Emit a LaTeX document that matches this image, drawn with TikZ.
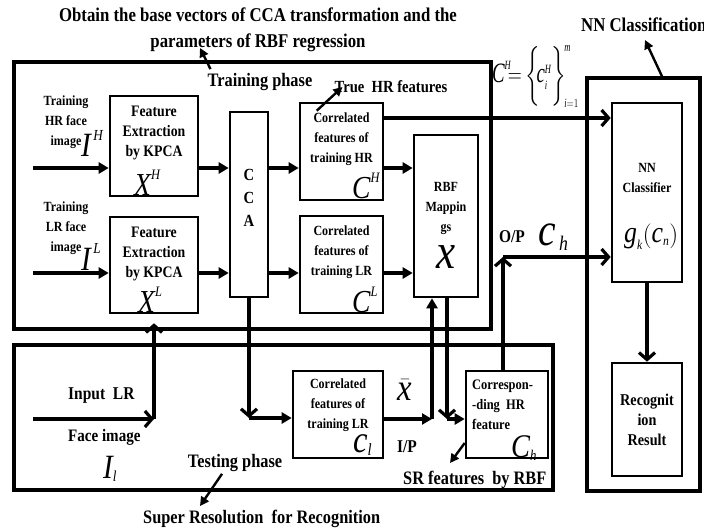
\documentclass[tikz,border=0pt]{standalone}
\usepackage{amsmath}
\usepackage{fontspec}
\setmainfont{Liberation Serif}[FakeStretch=0.86]
\renewcommand{\defaultscriptratio}{.45}
\usetikzlibrary{arrows.meta,positioning}

\tikzset{
  frame/.style={draw,line width=3.4pt,inner sep=0pt},
  blk/.style={draw,line width=2.6pt,inner sep=0pt},
  tsmall/.style={font=\fontsize{14}{20}\selectfont\bfseries,align=center,inner sep=0pt},
  tmid/.style={font=\fontsize{16}{20}\selectfont\bfseries,align=center,inner sep=0pt},
  tlarge/.style={font=\fontsize{18}{22}\selectfont\bfseries,inner sep=0pt},
  thead/.style={font=\fontsize{19}{26}\selectfont\bfseries,align=center,inner sep=0pt},
  sym/.style={font=\fontsize{#1}{#1}\selectfont,inner sep=0pt,anchor=base west},
  fl/.style={line width=3.2pt,-{Triangle[length=10pt,width=11pt]}},
  bl/.style={line width=3.2pt,-{Straight Barb[length=7pt,width=16pt]}},
  ptr/.style={line width=2.4pt,-{Triangle[length=9pt,width=9pt]}},
}

\begin{document}
\begin{tikzpicture}[x=1pt,y=-1pt]
  \useasboundingbox (0,0) rectangle (704,532);
  % the three phases
  \node[frame,minimum width=477,minimum height=267] (train) at (252.5,195.5) {};
  \node[frame,minimum width=539,minimum height=145] (test) at (283.5,417.5) {};
  \node[frame,minimum width=113,minimum height=413] (nnbox) at (643.5,284.5) {};
  % blocks
  \node[blk,minimum width=88,minimum height=100] (fehr) at (154,146) {};
  \node[blk,minimum width=88,minimum height=96] (felr) at (154,265) {};
  \node[blk,minimum width=38,minimum height=185] (cca) at (249,204.5) {};
  \node[blk,minimum width=83,minimum height=97] (chr) at (341.5,151.5) {};
  \node[blk,minimum width=83,minimum height=97] (clr) at (341.5,264.5) {};
  \node[blk,minimum width=64,minimum height=162] (rbf) at (446,216) {};
  \node[blk,minimum width=70,minimum height=179] (nncls) at (647,192.5) {};
  \node[blk,minimum width=70,minimum height=113] (recog) at (647,419.5) {};
  \node[blk,minimum width=90,minimum height=87] (tclr) at (338,414.5) {};
  \node[blk,minimum width=82,minimum height=87] (corr) at (507,414.5) {};
  % block texts
  \node[tsmall] (hrtxt) at (66,122) {Training\\HR face\\image};
  \node[tsmall] (lrtxt) at (66,228) {Training\\LR face\\image};
  \node[tmid] (fehrt) at (154,133) {Feature\\Extraction\\by KPCA};
  \node[tmid] (felrt) at (154,254) {Feature\\Extraction\\by KPCA};
  \node[tmid,font=\fontsize{17}{23}\selectfont\bfseries] (ccat) at (249,197.5) {C\\C\\A};
  \node[tsmall] (chrt) at (341.5,139) {Correlated\\features of\\training HR};
  \node[tsmall] (clrt) at (341.5,252) {Correlated\\features of\\training LR};
  \node[tsmall] (rbft) at (446,208) {RBF\\Mappin\\gs};
  \node[tsmall] (nnt) at (647,177.5) {NN\\Classifier};
  \node[tmid,font=\fontsize{16.5}{20}\selectfont\bfseries] (recogt) at (647,420) {Recognit\\ion\\Result};
  \node[tsmall] (tclrt) at (338,405) {Correlated\\features of\\training LR};
  \node[tsmall,font=\fontsize{14.5}{20}\selectfont\bfseries,align=left,anchor=west] (corrt) at (472,405) {Correspon-\\-ding\ \ HR\\feature};
  % symbols
  \node[sym=34] (ih) at (81,157) {$\textit{I}^{\,\textit{H}}$};
  \node[sym=34] (il) at (81,270) {$\textit{I}^{\,\textit{L}}$};
  \node[sym=32] (xh) at (134,195) {$\textit{X}^{\textit{H}}$};
  \node[sym=32] (xl) at (138,312) {$\textit{X}^{\textit{L}}$};
  \node[sym=32] (ch) at (352,198) {$\textit{C}^{\textit{H}}$};
  \node[sym=32] (cl) at (352,312) {$\textit{C}^{\textit{L}}$};
  \node[sym=50,anchor=base] (xr) at (446,268) {$\textit{x}$};
  \node[sym=38,anchor=base] (xbar) at (405,400) {$\bar{\textit{x}}$};
  \node[sym=38] (cl2) at (353,452) {$\textit{c}_{\textit{l}}$};
  \node[sym=33] (chh) at (511,457) {$\textit{C}_{\textit{h}}$};
  \node[sym=46] (chop) at (538,245) {$\textit{c}_{\,\textit{h}}$};
  \node[sym=30] (gk) at (624,242) {$\textit{g}_{\textit{k}}(\textit{c}_{\textit{n}})$};
  \node[sym=34] (ilow) at (103,478) {$\textit{I}_{\textit{l}}$};
  \node[sym=28] (cset) at (492,83) {\scalebox{0.78}[1]{$\textit{C}^{\textit{H}}\!{=}\left\{\rule[-17pt]{0pt}{52pt}\!\textit{c}_{\textit{i}}^{\textit{H}}\right\}_{\!\textit{i}=1}^{\!\textit{m}}$}};
  % captions
  \node[thead,font=\fontsize{19.5}{26}\selectfont\bfseries] (title) at (258,30) {Obtain the base vectors of CCA transformation and the\\parameters of RBF regression};
  \node[thead] (trph) at (260,82) {Training phase};
  \node[tlarge,font=\fontsize{17}{20}\selectfont\bfseries] (truehr) at (391,87) {True\ \ HR features};
  \node[thead,font=\fontsize{19.5}{26}\selectfont\bfseries,anchor=west] (nncl) at (581,25) {NN Classification};
  \node[thead] (tsph) at (235,463) {Testing phase};
  \node[thead,anchor=west] (srr) at (143,519) {Super Resolution\ \ for Recognition};
  \node[thead,anchor=west] (srf) at (403,480) {SR features\ \ by RBF};
  \node[tlarge,anchor=west] (inlr) at (68,396) {Input\ \ LR};
  \node[tlarge,font=\fontsize{17.5}{20}\selectfont\bfseries,anchor=west] (faceimg) at (68,437) {Face image};
  \node[tlarge] (op) at (512,237) {O/P};
  \node[tlarge] (ip) at (407,447) {I/P};
  % training flow
  \coordinate (rowh) at (0,168);
  \coordinate (rowl) at (0,273);
  \coordinate (hrin) at (33,168);
  \coordinate (lrin2) at (33,273);
  \draw[fl] (hrin) -- (rowh -| fehr.west);
  \draw[fl] (rowh -| fehr.east) -- (rowh -| cca.west);
  \draw[fl] (rowh -| cca.east) -- (rowh -| chr.west);
  \draw[fl] (rowh -| chr.east) -- (rowh -| rbf.west);
  \draw[fl] (lrin2) -- (rowl -| felr.west);
  \draw[fl] (rowl -| felr.east) -- (rowl -| cca.west);
  \draw[fl] (rowl -| cca.east) -- (rowl -| clr.west);
  \draw[fl] (rowl -| clr.east) -- (rowl -| rbf.west);
  \coordinate (toph) at (400,118);
  \draw[bl] (toph -| chr.east) -- (toph -| nncls.west);
  % testing flow
  \coordinate (lrin) at (33,419);
  \coordinate (lrup) at (154,419);
  \draw[bl] (lrin) -- (lrup);
  \draw[bl,shorten >=9pt] (lrup) -- (felr.south);
  \coordinate (ccadn) at (249,418);
  \draw[bl] (cca.south) -- (ccadn);
  \draw[fl] (ccadn) -- (ccadn -| tclr.west);
  \coordinate (rbfin) at (432,419);
  \draw[fl] (tclr.east |- rbfin) -- (rbfin);
  \draw[fl] (rbfin) -- (rbfin |- rbf.south);
  \coordinate (rbfout) at (447,419);
  \draw[bl] (rbfout |- rbf.south) -- (rbfout);
  \draw[fl] (rbfout) -- (rbfout -| corr.west);
  \coordinate (opc) at (503,257);
  \draw[bl] (opc |- corr.north) -- (opc);
  \draw[bl] (opc) -- (opc -| nncls.west);
  \draw[bl] (nncls.south) -- (recog.north);
  % pointers to the captions
  \coordinate (a1) at (645,40);
  \coordinate (a2) at (200,506);
  \coordinate (a3) at (450,463);
  \coordinate (a4) at (200,48);
  \draw[ptr] ([xshift=18.5pt]nnbox.north) -- (a1);
  \draw[ptr] ([xshift=-13pt,yshift=-2pt]tsph.south) -- (a2);
  \draw[ptr] ([yshift=-28.5pt]corr.west) -- (a3);
  \draw[ptr] ([shift={(3,-4)}]trph.north west) -- (a4);
  \draw[ptr] ([shift={(18,9)}]chr.north west) -- ([xshift=8pt]truehr.west);
\end{tikzpicture}
\end{document}
